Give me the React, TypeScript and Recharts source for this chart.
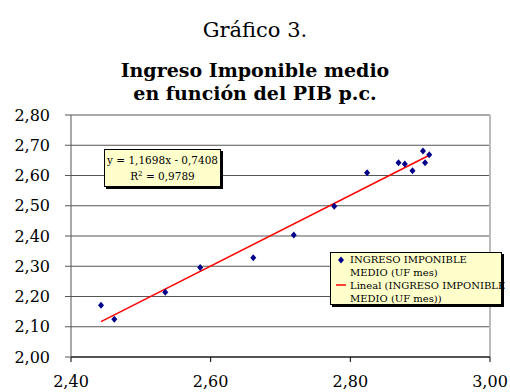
import {
  ScatterChart,
  Scatter,
  XAxis,
  YAxis,
  CartesianGrid,
  ReferenceLine,
} from 'recharts'

// PIB per cápita (x) vs ingreso imponible medio (y), UF
const pibPc = [2.443, 2.462, 2.535, 2.585, 2.661, 2.719, 2.777, 2.824, 2.869, 2.878, 2.889, 2.904, 2.907, 2.913]
const ingresoMedio = [2.171, 2.125, 2.214, 2.296, 2.328, 2.403, 2.498, 2.609, 2.642, 2.638, 2.616, 2.681, 2.642, 2.669]

// linear trend endpoints as drawn
const trendX = [2.443, 2.913]
const trendY = [2.117, 2.667]

const xTicks = [2.4, 2.6, 2.8, 3.0]
const yTicks = [2.0, 2.1, 2.2, 2.3, 2.4, 2.5, 2.6, 2.7, 2.8]

const legendLines = [
  ['INGRESO IMPONIBLE', 'MEDIO (UF mes)'],
  ['Lineal (INGRESO IMPONIBLE', 'MEDIO (UF mes))'],
]
const equationText = 'y = 1,1698x - 0,7408'
const r2Text = '0,9789'

const points = pibPc.map((x, i) => ({ x, y: ingresoMedio[i] }))
const trend = trendX.map((x, i) => ({ x, y: trendY[i] }))

const serif = 'DejaVu Serif'
const fmt = (v: number) => v.toFixed(2).replace('.', ',')

function Diamond(props: any) {
  const { cx, cy } = props
  return (
    <polygon
      points={`${cx},${cy - 3.5} ${cx + 3},${cy} ${cx},${cy + 3.5} ${cx - 3},${cy}`}
      fill="#00008b"
    />
  )
}

function LegendBox() {
  return (
    <div
      style={{
        position: 'absolute',
        left: 330,
        top: 252,
        width: 172,
        height: 53,
        background: '#ffffcc',
        border: '1px solid #000',
        boxShadow: '2px 2px 0 #000',
        fontFamily: serif,
        fontSize: 10,
        lineHeight: '13px',
        color: '#000',
        boxSizing: 'border-box',
        whiteSpace: 'nowrap',
      }}
    >
      <svg width={20} height={53} style={{ position: 'absolute', left: 0, top: 0 }}>
        <polygon points="10,3.5 13,7 10,10.5 7,7" fill="#00008b" />
        <line x1={5} x2={15} y1={32} y2={32} stroke="#ff0000" strokeWidth={1.5} />
      </svg>
      <div style={{ position: 'absolute', left: 19, top: 0 }}>
        {legendLines.map((lines, i) => (
          <div key={i}>
            {lines.map((l) => (
              <div key={l}>{l}</div>
            ))}
          </div>
        ))}
      </div>
    </div>
  )
}

export default function App() {
  return (
    <div style={{ position: 'absolute', left: 0, top: 0, width: 510, height: 392, background: '#fff' }}>
      <div
        style={{
          position: 'absolute',
          top: 18,
          width: 510,
          textAlign: 'center',
          fontFamily: serif,
          fontSize: 21,
        }}
      >
        Gráfico 3.
      </div>
      <div
        style={{
          position: 'absolute',
          top: 59,
          width: 510,
          textAlign: 'center',
          fontFamily: serif,
          fontWeight: 'bold',
          fontSize: 19,
          lineHeight: '23px',
        }}
      >
        Ingreso Imponible medio
        <br />
        en función del PIB p.c.
      </div>
      <ScatterChart
        width={510}
        height={392}
        margin={{ top: 115, right: 20, left: 11, bottom: 0 }}
        style={{ position: 'absolute', left: 0, top: 0 }}
      >
        <CartesianGrid vertical={false} stroke="#555" />
        <XAxis
          type="number"
          dataKey="x"
          domain={[2.4, 3.0]}
          ticks={xTicks}
          tickFormatter={fmt}
          height={35}
          tickSize={5}
          tickMargin={14}
          stroke="#000"
          tick={{ fontFamily: serif, fontSize: 16, fill: '#000' }}
        />
        <YAxis
          type="number"
          dataKey="y"
          domain={[2.0, 2.8]}
          ticks={yTicks}
          tickFormatter={fmt}
          width={60}
          tickSize={6}
          tickMargin={15}
          stroke="#555"
          tick={{ fontFamily: serif, fontSize: 16, fill: '#000' }}
        />
        <ReferenceLine x={3.0} stroke="#bbb" strokeWidth={2} />
        <Scatter
          name="trend"
          data={trend}
          line={{ stroke: '#ff0000', strokeWidth: 1.5 }}
          shape={() => <g />}
          isAnimationActive={false}
        />
        <Scatter name="data" data={points} shape={Diamond} isAnimationActive={false} />
      </ScatterChart>
      <LegendBox />
      <div
        style={{
          position: 'absolute',
          left: 104,
          top: 149,
          width: 117,
          height: 38,
          background: '#ffffcc',
          border: '1px solid #000',
          boxShadow: '2px 2px 0 #000',
          boxSizing: 'border-box',
          fontFamily: serif,
          fontSize: 10.5,
          lineHeight: '16px',
          textAlign: 'center',
          paddingTop: 2,
          whiteSpace: 'nowrap',
        }}
      >
        <div>{equationText}</div>
        <div>
          R<sup style={{ fontSize: 7, lineHeight: 0 }}>2</sup> = {r2Text}
        </div>
      </div>
    </div>
  )
}
